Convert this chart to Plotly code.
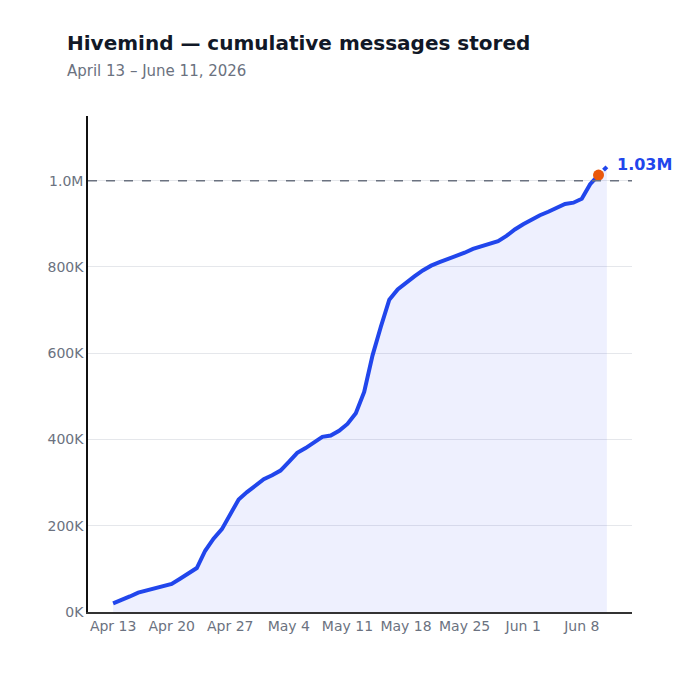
import pandas as pd
import plotly.graph_objects as go

# daily cumulative totals, thousands of messages (Apr 13 .. Jun 11, 2026)
start_date = '2026-04-13'
cumulative_k = [20, 27, 36, 45, 50, 56, 61, 65, 77, 89,
                102, 142, 170, 192, 228, 261, 278, 292, 308, 317,
                328, 348, 369, 380, 393, 406, 409, 420, 436, 461,
                510, 595, 662, 724, 748, 764, 778, 792, 803, 811,
                818, 826, 833, 842, 848, 852, 860, 872, 887, 899,
                910, 920, 928, 936, 946, 949, 958, 992, 1013, 1032]
milestone_k = 1000
end_label = '1.03M'

tick_dates = ['2026-04-13', '2026-04-20', '2026-04-27', '2026-05-04', '2026-05-11',
              '2026-05-18', '2026-05-25', '2026-06-01', '2026-06-08']
tick_labels = ['Apr 13', 'Apr 20', 'Apr 27', 'May 4', 'May 11',
               'May 18', 'May 25', 'Jun 1', 'Jun 8']
y_ticks = [0, 200000, 400000, 600000, 800000, 1000000]
y_labels = ['0K', '200K', '400K', '600K', '800K', '1.0M']

dates = pd.date_range(start_date, periods=len(cumulative_k), freq='D')
values = [v * 1000 for v in cumulative_k]

blue = '#2146ec'
grey = '#6b7280'

fig = go.Figure()
# shaded area under the whole series
fig.add_trace(go.Scatter(x=dates, y=values, mode='lines', line=dict(width=0),
                         fill='tozeroy', fillcolor='rgba(33,70,236,0.08)',
                         hoverinfo='skip', showlegend=False))
# completed days
fig.add_trace(go.Scatter(x=dates[:-1], y=values[:-1], mode='lines',
                         line=dict(color=blue, width=4), showlegend=False))
# today (partial)
fig.add_trace(go.Scatter(x=dates[-2:], y=values[-2:], mode='lines',
                         line=dict(color=blue, width=4, dash='5px,2px'), showlegend=False))
# milestone crossing marker
fig.add_trace(go.Scatter(x=[dates[-2]], y=[values[-2]], mode='markers',
                         marker=dict(color='#ea580c', size=11), showlegend=False))

fig.add_shape(type='line', xref='paper', x0=0, x1=1, yref='y',
              y0=milestone_k * 1000, y1=milestone_k * 1000,
              line=dict(color=grey, width=1.5, dash='dash'))

fig.add_annotation(x=dates[-1], y=values[-1], text='<b>%s</b>' % end_label,
                   showarrow=False, xanchor='left', xshift=8, yshift=2,
                   font=dict(size=16, color=blue))
fig.add_annotation(xref='paper', yref='paper', x=-0.0423, y=1.147, xanchor='left',
                   yanchor='middle', showarrow=False,
                   text='<b>Hivemind — cumulative messages stored</b>',
                   font=dict(size=20, color='#111827'))
fig.add_annotation(xref='paper', yref='paper', x=-0.0423, y=1.091, xanchor='left',
                   yanchor='middle', showarrow=False,
                   text='April 13 – June 11, 2026',
                   font=dict(size=15, color=grey))

fig.update_xaxes(range=['2026-04-10', '2026-06-14'], tickvals=tick_dates, ticktext=tick_labels,
                 showgrid=False, showline=True, linecolor='#333333', linewidth=1.5,
                 tickfont=dict(size=14, color=grey), ticks='')
fig.update_yaxes(range=[0, 1150000], tickvals=y_ticks, ticktext=y_labels,
                 showgrid=True, gridcolor='#e5e7eb', gridwidth=1, zeroline=False,
                 showline=True, linecolor='#111111', linewidth=1.5,
                 tickfont=dict(size=14, color=grey), ticks='')
fig.update_layout(width=680, height=680, plot_bgcolor='white', paper_bgcolor='white',
                  margin=dict(l=80, r=56, t=108, b=76),
                  font=dict(family='DejaVu Sans'))

fig.write_html('out.html')
